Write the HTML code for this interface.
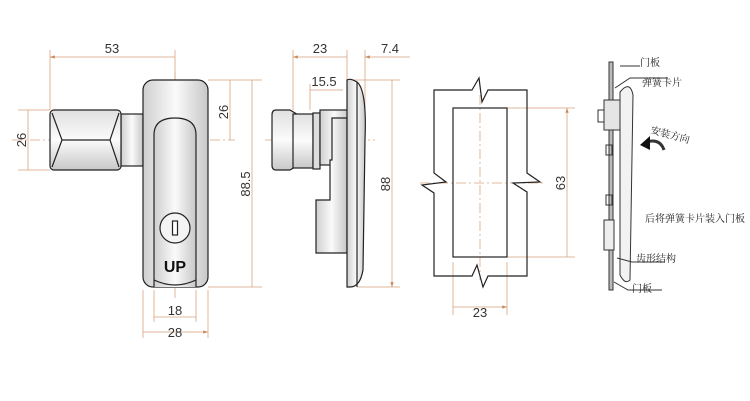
<!DOCTYPE html><html><head><meta charset="utf-8"><style>body{margin:0;background:#fff}svg{display:block}</style></head><body>
<svg width="750" height="401" viewBox="0 0 750 401" font-family="Liberation Sans, sans-serif">
<defs>
<linearGradient id="g" x1="0" x2="1"><stop offset="0" stop-color="#cfcfcf"/><stop offset=".5" stop-color="#fafafa"/><stop offset="1" stop-color="#c8c8c8"/></linearGradient>
<linearGradient id="gv" x1="0" y1="0" x2="0" y2="1"><stop offset="0" stop-color="#e0e0e0"/><stop offset=".5" stop-color="#fbfbfb"/><stop offset="1" stop-color="#c8c8c8"/></linearGradient>
<marker id="a" viewBox="0 0 10 10" refX="10" refY="5" markerWidth="9" markerHeight="6" orient="auto-start-reverse"><path d="M0 1.5L10 5L0 8.5z" fill="#c98a5a"/></marker>
</defs>
<g stroke="#d7a37f" stroke-width="0.8" fill="none">
<path d="M50 50V110M175 50V80M18 110H50M18 170H50M208 80H262M208 287H262M154 290V322M196 290V322M143 290V338M208 290V338"/>
<path d="M50 57H175M28 110V170M230 80V140M252 80V287M154 317H196M143 332H208" marker-start="url(#a)" marker-end="url(#a)"/>
<path d="M293 50V110M347 50V80M365 50V140M310 84V110M347 80H400M357 287H400"/>
<path d="M293 57H347M310 90H343M392 80V287" marker-start="url(#a)" marker-end="url(#a)"/>
<path d="M410 57H365" marker-end="url(#a)"/>
<path d="M507 108H575M507 257H575M453 262V315M507 262V315"/>
<path d="M567 108V257M453 307H507" marker-start="url(#a)" marker-end="url(#a)"/>
</g>
<g stroke="#d9a583" stroke-width="0.8" stroke-dasharray="10 3 2 3" fill="none">
<path d="M12 140H235M175 72V300M265 140H375M420 183H545M480 95V280"/>
</g>
<g stroke="#222" stroke-width="1.2">
<rect x="121" y="114" width="22" height="52" fill="url(#g)"/>
<rect x="50" y="110" width="71" height="60" rx="4" fill="url(#gv)"/>
<path d="M52 113L62 140L52 167M119 113L110 140L119 167M62 140H110" fill="none"/>
<rect x="143" y="80" width="65" height="207" rx="10" fill="url(#g)"/>
<path d="M154 287V135Q154 118 175 118Q196 118 196 135V287" fill="url(#g)"/>
<path d="M154 280Q175 290 196 280" fill="none"/>
<circle cx="175" cy="228" r="15" fill="#f4f4f4"/>
<rect x="172.5" y="221" width="5" height="14" fill="#fff"/>
</g>
<text x="175" y="272" text-anchor="middle" font-size="16" font-weight="bold" fill="#111">UP</text>
<g stroke="#222" stroke-width="1.2">
<path d="M276 110H290L300 116V164L290 170H276Q272 170 272 165V115Q272 110 276 110Z" fill="url(#gv)"/>
<rect x="293" y="114" width="20" height="54" fill="url(#gv)"/>
<rect x="313" y="113" width="7" height="56" fill="#ddd"/>
<rect x="320" y="110" width="28" height="55" fill="url(#g)"/>
<path d="M332 118H347V253H316V200H330V160H332Z" fill="url(#g)"/>
<path d="M347 80Q350 78 357 82Q367 90 365 140L363 270Q360 287 350 287H347Z" fill="url(#g)"/>
<path d="M357 82V287"/>
</g>
<text x="320" y="53" font-size="13" fill="#333" text-anchor="middle">23</text>
<text x="390" y="53" font-size="13" fill="#333" text-anchor="middle">7.4</text>
<text x="324" y="86" font-size="13" fill="#333" text-anchor="middle">15.5</text>
<text x="112" y="53" font-size="13" fill="#333" text-anchor="middle">53</text>
<text x="175" y="315" font-size="13" fill="#333" text-anchor="middle">18</text>
<text x="175" y="337" font-size="13" fill="#333" text-anchor="middle">28</text>
<text x="480" y="317" font-size="13" fill="#333" text-anchor="middle">23</text>
<text font-size="13" fill="#333" text-anchor="middle" transform="translate(26 140) rotate(-90)">26</text>
<text font-size="13" fill="#333" text-anchor="middle" transform="translate(228 112) rotate(-90)">26</text>
<text font-size="13" fill="#333" text-anchor="middle" transform="translate(250 184) rotate(-90)">88.5</text>
<text font-size="13" fill="#333" text-anchor="middle" transform="translate(390 184) rotate(-90)">88</text>
<text font-size="13" fill="#333" text-anchor="middle" transform="translate(565 183) rotate(-90)">63</text>
<g stroke="#222" stroke-width="1.2" fill="none">
<path d="M472 90L479 78L482 102L488 90H527V173L540 182L513 183L527 192V276H488L483 287L477 265L472 276H434V193L422 185L446 182L434 173V90Z"/>
<rect x="453" y="108" width="54" height="149"/>
</g>
<g stroke="#333" stroke-width="1" fill="none">
<rect x="609" y="62" width="4" height="228" fill="#bbb"/>
<path d="M620 92Q630 80 633 95L630 280Q625 285 620 275Z" fill="#f2f2f2"/>
<rect x="604" y="100" width="16" height="30" fill="#e5e5e5"/>
<rect x="598" y="110" width="6" height="12"/>
<rect x="606" y="145" width="6" height="10"/><rect x="606" y="195" width="6" height="10"/>
<rect x="604" y="220" width="10" height="30" fill="#eee"/>
<path d="M620 66H640M615 88L630 78H668M617 258L632 262H665M614 282L628 290H662"/>
<path d="M664 150Q660 138 646 142" stroke-width="3"/>
</g>
<path d="M640 145L650 136L650 150Z" fill="#111"/>
<g font-family="Liberation Serif, Noto Serif CJK SC, serif" font-size="10" fill="#222">
<text x="640" y="66">门板</text><text x="642" y="86">弹簧卡片</text>
<text x="650" y="133" transform="rotate(15 650 133)">安装方向</text>
<text x="645" y="222">后将弹簧卡片装入门板</text>
<text x="636" y="262">齿形结构</text><text x="632" y="292">门板</text>
</g>
</svg></body></html>
